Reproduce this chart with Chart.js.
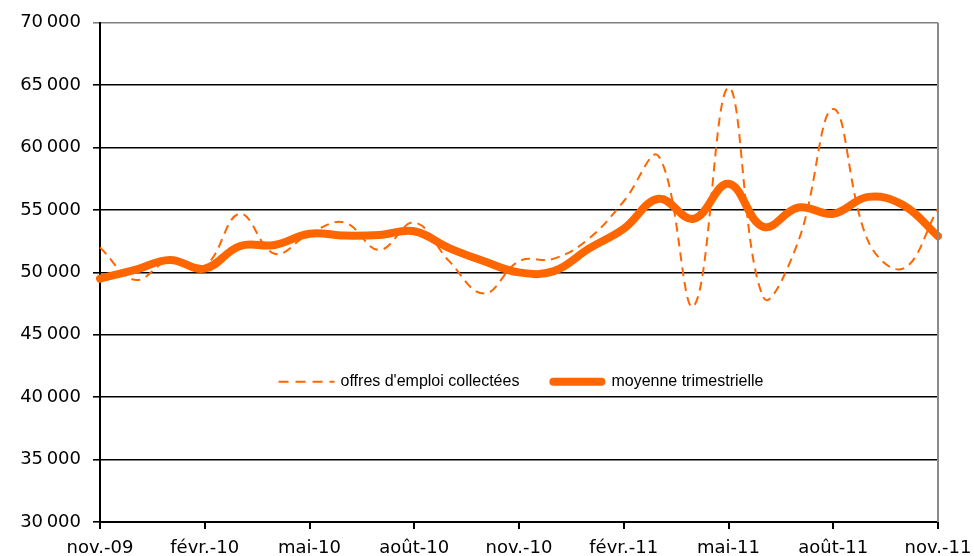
<!DOCTYPE html>
<html>
<head>
<meta charset="utf-8">
<script src="https://cdn.jsdelivr.net/npm/chart.js@4/dist/chart.umd.min.js"></script>
<style>
  html, body { margin: 0; padding: 0; background: #fff; overflow: hidden; }
  #wrap { width: 974px; height: 556px; }
</style>
</head>
<body>
<div id="wrap"><canvas id="chart" width="974" height="556"></canvas></div>
<script>
// months, nov.-09 -> nov.-11
const months = ['nov.-09', 'déc.-09', 'janv.-10', 'févr.-10', 'mars-10', 'avr.-10', 'mai-10', 'juin-10',
  'juil.-10', 'août-10', 'sept.-10', 'oct.-10', 'nov.-10', 'déc.-10', 'janv.-11', 'févr.-11', 'mars-11',
  'avr.-11', 'mai-11', 'juin-11', 'juil.-11', 'août-11', 'sept.-11', 'oct.-11', 'nov.-11'];

// offres d'emploi collectées (dashed)
const offres = [52000, 49400, 51000, 50500, 54700, 51500, 53100, 54000, 51800, 54000, 50900, 48300,
  50900, 51100, 52700, 55700, 59300, 47300, 64800, 48000, 52500, 63100, 52500, 50300, 55100];

// moyenne trimestrielle (thick)
const moyenne = [49500, 50200, 51000, 50300, 52100, 52200, 53100, 52950, 53000, 53300, 51950, 50900,
  50000, 50100, 51900, 53500, 55900, 54300, 57100, 53650, 55200, 54700, 56050, 55400, 52900];

const seriesNames = ["offres d'emploi collectées", 'moyenne trimestrielle'];

const yMin = 30000, yMax = 70000, yStep = 5000;
const orange = '#FF6600';
const axisFont = { family: 'DejaVu Sans', size: 18 };

const fmt = (v) => String(v).replace(/\B(?=(\d{3})+(?!\d))/g, '\u202F');

// legend drawn inside the plot, like the original
const innerLegend = {
  id: 'innerLegend',
  afterDatasetsDraw(chart) {
    const { ctx, chartArea } = chart;
    ctx.save();
    ctx.font = '16px "Liberation Sans"';
    ctx.textBaseline = 'middle';
    const y = chartArea.top + (chartArea.bottom - chartArea.top) * 0.719;
    const sample = 56, gapTxt = 6, gapItem = 30;
    const w0 = ctx.measureText(seriesNames[0]).width;
    const w1 = ctx.measureText(seriesNames[1]).width;
    const total = sample + gapTxt + w0 + gapItem + sample + gapTxt + w1;
    let x = (chartArea.left + chartArea.right) / 2 + 2 - total / 2;

    ctx.strokeStyle = orange;
    ctx.lineWidth = 2;
    ctx.setLineDash([10, 7]);
    ctx.beginPath(); ctx.moveTo(x, y); ctx.lineTo(x + sample, y); ctx.stroke();
    ctx.setLineDash([]);
    x += sample + gapTxt;
    ctx.fillStyle = '#000';
    ctx.fillText(seriesNames[0], x, y);
    x += w0 + gapItem;

    ctx.lineWidth = 8;
    ctx.lineCap = 'round';
    ctx.beginPath(); ctx.moveTo(x + 4, y); ctx.lineTo(x + sample - 4, y); ctx.stroke();
    x += sample + gapTxt;
    ctx.fillText(seriesNames[1], x, y);
    ctx.restore();
  },
  afterDraw(chart) {
    // grey right border of the plot area
    const { ctx, chartArea } = chart;
    ctx.save();
    ctx.strokeStyle = '#8a8a8a';
    ctx.lineWidth = 2;
    ctx.beginPath();
    ctx.moveTo(chartArea.right, chartArea.top);
    ctx.lineTo(chartArea.right, chartArea.bottom);
    ctx.stroke();
    ctx.restore();
  }
};

new Chart(document.getElementById('chart'), {
  type: 'line',
  data: {
    labels: months,
    datasets: [
      {
        label: seriesNames[0],
        data: offres,
        borderColor: orange,
        borderWidth: 2,
        borderDash: [9, 6],
        pointRadius: 0,
        tension: 0.4,
        fill: false
      },
      {
        label: seriesNames[1],
        data: moyenne,
        borderColor: orange,
        borderWidth: 8,
        borderCapStyle: 'round',
        pointRadius: 0,
        tension: 0.4,
        fill: false
      }
    ]
  },
  options: {
    responsive: false,
    animation: false,
    devicePixelRatio: 1,
    layout: { padding: { top: 20, left: 0, right: 0, bottom: 0 } },
    plugins: {
      legend: { display: false },
      tooltip: { enabled: false }
    },
    scales: {
      x: {
        offset: false,
        afterFit: (s) => { s.height = 34; s.paddingRight = 36; s.paddingLeft = 0; },
        border: { display: true, color: '#000', width: 2 },
        grid: {
          drawOnChartArea: false,
          drawTicks: true,
          tickLength: 7,
          lineWidth: 2,
          color: (c) => (c.index % 3 === 0 ? '#000' : 'rgba(0,0,0,0)')
        },
        ticks: {
          autoSkip: false,
          maxRotation: 0,
          padding: 9,
          color: '#000',
          font: axisFont,
          callback: (v, i) => (i % 3 === 0 ? months[i] : '')
        }
      },
      y: {
        min: yMin,
        max: yMax,
        afterFit: (s) => { s.width = 100; },
        border: { display: true, color: '#000', width: 2 },
        grid: {
          drawTicks: true,
          tickLength: 7,
          lineWidth: 1.6,
          color: (c) => (c.tick && c.tick.value === yMax ? '#808080' : '#000')
        },
        ticks: {
          stepSize: yStep,
          padding: 12,
          color: '#000',
          font: axisFont,
          callback: (v) => fmt(v)
        }
      }
    }
  },
  plugins: [innerLegend]
});
</script>
</body>
</html>
